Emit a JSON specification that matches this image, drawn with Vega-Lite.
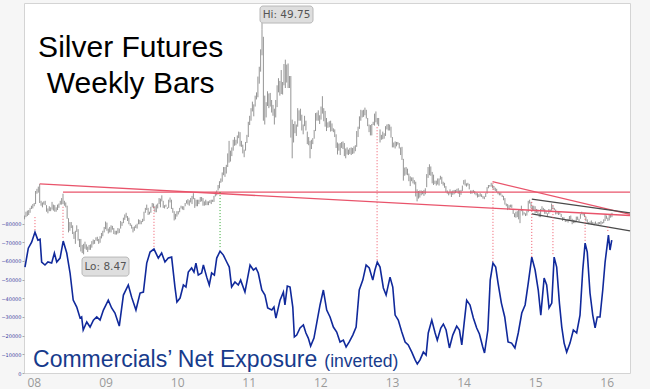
{
"$schema":"https://vega.github.io/schema/vega-lite/v6.json",
"width":606,"height":370,"autosize":"none",
"padding":{"left":24,"top":3,"right":20,"bottom":16},
"background":"#f6f6f6",
"config":{"view":{"fill":"#ffffff","stroke":"#d4d4d4"},"axis":{"grid":false,"title":null}},
"datasets":{
"price":[
{"d":"2008-01-04","l":14.9,"h":15.6},{"d":"2008-01-11","l":15.3,"h":16.3},{"d":"2008-01-18","l":15.5,"h":16.5},{"d":"2008-01-25","l":15.7,"h":16.6},{"d":"2008-02-01","l":16.1,"h":17.0},{"d":"2008-02-08","l":16.8,"h":17.4},{"d":"2008-02-15","l":16.9,"h":17.7},{"d":"2008-02-22","l":17.3,"h":17.9},{"d":"2008-02-29","l":17.7,"h":20.1},{"d":"2008-03-07","l":19.6,"h":20.5},{"d":"2008-03-14","l":19.8,"h":20.9},{"d":"2008-03-21","l":17.9,"h":21.4},{"d":"2008-03-28","l":17.4,"h":18.3},{"d":"2008-04-04","l":17.1,"h":18.0},{"d":"2008-04-11","l":17.6,"h":18.2},{"d":"2008-04-18","l":17.5,"h":18.3},{"d":"2008-04-25","l":16.3,"h":17.5},{"d":"2008-05-02","l":16.0,"h":16.9},{"d":"2008-05-09","l":16.4,"h":17.3},{"d":"2008-05-16","l":16.4,"h":17.1},{"d":"2008-05-23","l":16.7,"h":18.1},{"d":"2008-05-30","l":16.5,"h":17.6},{"d":"2008-06-06","l":16.3,"h":17.5},{"d":"2008-06-13","l":16.3,"h":17.1},{"d":"2008-06-20","l":16.6,"h":17.6},{"d":"2008-06-27","l":17.0,"h":17.8},{"d":"2008-07-04","l":17.6,"h":18.3},{"d":"2008-07-11","l":17.6,"h":18.8},{"d":"2008-07-18","l":17.7,"h":19.6},{"d":"2008-07-25","l":17.4,"h":18.3},{"d":"2008-08-01","l":17.1,"h":18.0},{"d":"2008-08-08","l":15.0,"h":17.4},{"d":"2008-08-15","l":12.5,"h":15.1},{"d":"2008-08-22","l":12.8,"h":14.4},{"d":"2008-08-29","l":13.3,"h":14.4},{"d":"2008-09-05","l":12.2,"h":13.8},{"d":"2008-09-12","l":11.3,"h":12.6},{"d":"2008-09-19","l":10.4,"h":12.8},{"d":"2008-09-26","l":12.6,"h":13.8},{"d":"2008-10-03","l":11.0,"h":13.1},{"d":"2008-10-10","l":9.8,"h":11.3},{"d":"2008-10-17","l":9.0,"h":11.3},{"d":"2008-10-24","l":8.7,"h":10.2},{"d":"2008-10-31","l":8.47,"h":10.4},{"d":"2008-11-07","l":9.5,"h":10.8},{"d":"2008-11-14","l":9.3,"h":10.3},{"d":"2008-11-21","l":8.9,"h":9.9},{"d":"2008-11-28","l":9.3,"h":10.2},{"d":"2008-12-05","l":9.3,"h":10.3},{"d":"2008-12-12","l":9.7,"h":10.9},{"d":"2008-12-19","l":10.3,"h":11.2},{"d":"2008-12-26","l":10.4,"h":11.1},
{"d":"2009-01-02","l":11.0,"h":11.6},{"d":"2009-01-09","l":10.9,"h":11.7},{"d":"2009-01-16","l":10.4,"h":11.3},{"d":"2009-01-23","l":10.6,"h":11.8},{"d":"2009-01-30","l":11.4,"h":12.4},{"d":"2009-02-06","l":11.8,"h":12.8},{"d":"2009-02-13","l":12.5,"h":13.5},{"d":"2009-02-20","l":13.1,"h":14.5},{"d":"2009-02-27","l":12.8,"h":14.3},{"d":"2009-03-06","l":12.3,"h":13.2},{"d":"2009-03-13","l":12.5,"h":13.5},{"d":"2009-03-20","l":12.5,"h":13.8},{"d":"2009-03-27","l":13.0,"h":13.7},{"d":"2009-04-03","l":12.2,"h":13.3},{"d":"2009-04-10","l":12.1,"h":12.8},{"d":"2009-04-17","l":12.1,"h":12.8},{"d":"2009-04-24","l":12.3,"h":13.3},{"d":"2009-05-01","l":12.4,"h":13.2},{"d":"2009-05-08","l":13.2,"h":14.6},{"d":"2009-05-15","l":13.7,"h":14.4},{"d":"2009-05-22","l":14.2,"h":15.2},{"d":"2009-05-29","l":14.8,"h":15.8},{"d":"2009-06-05","l":15.2,"h":16.1},{"d":"2009-06-12","l":14.6,"h":15.5},{"d":"2009-06-19","l":14.0,"h":15.2},{"d":"2009-06-26","l":13.7,"h":14.2},{"d":"2009-07-03","l":13.2,"h":13.9},{"d":"2009-07-10","l":12.5,"h":13.5},{"d":"2009-07-17","l":12.8,"h":13.6},{"d":"2009-07-24","l":13.3,"h":13.9},{"d":"2009-07-31","l":13.2,"h":14.1},{"d":"2009-08-07","l":14.0,"h":14.9},{"d":"2009-08-14","l":14.0,"h":14.8},{"d":"2009-08-21","l":14.0,"h":14.6},{"d":"2009-08-28","l":14.4,"h":15.0},{"d":"2009-09-04","l":14.6,"h":16.3},{"d":"2009-09-11","l":16.1,"h":17.0},{"d":"2009-09-18","l":16.6,"h":17.6},{"d":"2009-09-25","l":15.7,"h":17.0},{"d":"2009-10-02","l":15.8,"h":16.3},{"d":"2009-10-09","l":16.1,"h":17.2},{"d":"2009-10-16","l":17.1,"h":17.9},{"d":"2009-10-23","l":16.9,"h":17.8},{"d":"2009-10-30","l":16.2,"h":17.3},{"d":"2009-11-06","l":16.2,"h":17.6},{"d":"2009-11-13","l":16.9,"h":17.8},{"d":"2009-11-20","l":17.7,"h":18.8},{"d":"2009-11-27","l":17.1,"h":18.7},{"d":"2009-12-04","l":18.2,"h":19.3},{"d":"2009-12-11","l":17.0,"h":18.3},{"d":"2009-12-18","l":16.9,"h":17.5},{"d":"2009-12-25","l":17.2,"h":17.6},
{"d":"2010-01-01","l":16.8,"h":17.1},{"d":"2010-01-08","l":17.0,"h":18.5},{"d":"2010-01-15","l":18.0,"h":18.9},{"d":"2010-01-22","l":16.8,"h":18.5},{"d":"2010-01-29","l":16.1,"h":17.0},{"d":"2010-02-05","l":14.7,"h":16.4},{"d":"2010-02-12","l":14.9,"h":15.9},{"d":"2010-02-19","l":15.4,"h":16.4},{"d":"2010-02-26","l":15.8,"h":16.4},{"d":"2010-03-05","l":16.2,"h":17.0},{"d":"2010-03-12","l":16.9,"h":17.4},{"d":"2010-03-19","l":16.7,"h":17.3},{"d":"2010-03-26","l":16.6,"h":17.3},{"d":"2010-04-02","l":17.3,"h":17.9},{"d":"2010-04-09","l":17.8,"h":18.4},{"d":"2010-04-16","l":17.6,"h":18.6},{"d":"2010-04-23","l":17.4,"h":18.4},{"d":"2010-04-30","l":18.0,"h":18.8},{"d":"2010-05-07","l":17.7,"h":19.2},{"d":"2010-05-14","l":18.6,"h":19.7},{"d":"2010-05-21","l":17.0,"h":18.8},{"d":"2010-05-28","l":17.3,"h":18.5},{"d":"2010-06-04","l":17.3,"h":18.5},{"d":"2010-06-11","l":17.7,"h":18.5},{"d":"2010-06-18","l":18.1,"h":19.0},{"d":"2010-06-25","l":18.2,"h":19.0},{"d":"2010-07-02","l":17.4,"h":18.8},{"d":"2010-07-09","l":17.4,"h":18.2},{"d":"2010-07-16","l":17.5,"h":18.5},{"d":"2010-07-23","l":17.5,"h":18.2},{"d":"2010-07-30","l":17.5,"h":18.2},{"d":"2010-08-06","l":17.9,"h":18.4},{"d":"2010-08-13","l":17.7,"h":18.5},{"d":"2010-08-20","l":18.1,"h":18.5},{"d":"2010-08-27","l":18.1,"h":19.2},{"d":"2010-09-03","l":19.1,"h":19.9},{"d":"2010-09-10","l":19.3,"h":20.2},{"d":"2010-09-17","l":20.2,"h":21.2},{"d":"2010-09-24","l":20.6,"h":21.9},{"d":"2010-10-01","l":21.6,"h":22.4},{"d":"2010-10-08","l":21.8,"h":23.5},{"d":"2010-10-15","l":23.0,"h":24.5},{"d":"2010-10-22","l":22.7,"h":24.5},{"d":"2010-10-29","l":23.3,"h":24.9},{"d":"2010-11-05","l":24.5,"h":27.0},{"d":"2010-11-12","l":25.3,"h":29.3},{"d":"2010-11-19","l":25.5,"h":27.5},{"d":"2010-11-26","l":26.5,"h":28.1},{"d":"2010-12-03","l":27.5,"h":29.5},{"d":"2010-12-10","l":28.4,"h":30.0},{"d":"2010-12-17","l":28.5,"h":29.5},{"d":"2010-12-24","l":28.8,"h":30.3},{"d":"2010-12-31","l":29.8,"h":31.0},
{"d":"2011-01-07","l":28.3,"h":30.9},{"d":"2011-01-14","l":28.2,"h":29.3},{"d":"2011-01-21","l":27.0,"h":28.6},{"d":"2011-01-28","l":26.3,"h":27.7},{"d":"2011-02-04","l":27.5,"h":29.1},{"d":"2011-02-11","l":28.9,"h":30.4},{"d":"2011-02-18","l":30.0,"h":32.8},{"d":"2011-02-25","l":32.2,"h":33.9},{"d":"2011-03-04","l":33.0,"h":35.3},{"d":"2011-03-11","l":34.7,"h":36.5},{"d":"2011-03-18","l":33.8,"h":36.0},{"d":"2011-03-25","l":35.6,"h":37.6},{"d":"2011-04-01","l":36.9,"h":38.2},{"d":"2011-04-08","l":37.3,"h":41.1},{"d":"2011-04-15","l":39.8,"h":42.9},{"d":"2011-04-22","l":42.0,"h":46.1},{"d":"2011-04-29","l":45.0,"h":49.75},{"d":"2011-05-06","l":33.0,"h":48.4},{"d":"2011-05-13","l":32.3,"h":37.6},{"d":"2011-05-20","l":33.6,"h":36.4},{"d":"2011-05-27","l":35.7,"h":38.4},{"d":"2011-06-03","l":35.3,"h":38.0},{"d":"2011-06-10","l":35.6,"h":38.1},{"d":"2011-06-17","l":34.5,"h":36.8},{"d":"2011-06-24","l":33.9,"h":35.9},{"d":"2011-07-01","l":32.3,"h":35.2},{"d":"2011-07-08","l":33.6,"h":36.8},{"d":"2011-07-15","l":35.5,"h":39.5},{"d":"2011-07-22","l":38.2,"h":40.8},{"d":"2011-07-29","l":37.6,"h":40.3},{"d":"2011-08-05","l":37.9,"h":42.3},{"d":"2011-08-12","l":37.8,"h":40.1},{"d":"2011-08-19","l":39.5,"h":43.4},{"d":"2011-08-26","l":39.0,"h":44.2},{"d":"2011-09-02","l":40.0,"h":43.3},{"d":"2011-09-09","l":39.0,"h":43.5},{"d":"2011-09-16","l":39.0,"h":41.2},{"d":"2011-09-23","l":29.9,"h":41.2},{"d":"2011-09-30","l":26.1,"h":33.2},{"d":"2011-10-07","l":29.0,"h":32.4},{"d":"2011-10-14","l":30.7,"h":32.9},{"d":"2011-10-21","l":30.2,"h":32.3},{"d":"2011-10-28","l":31.9,"h":35.3},{"d":"2011-11-04","l":33.0,"h":34.9},{"d":"2011-11-11","l":33.0,"h":35.2},{"d":"2011-11-18","l":31.2,"h":34.1},{"d":"2011-11-25","l":30.5,"h":32.3},{"d":"2011-12-02","l":32.0,"h":33.9},{"d":"2011-12-09","l":31.2,"h":33.0},{"d":"2011-12-16","l":28.7,"h":31.0},{"d":"2011-12-23","l":28.5,"h":30.0},{"d":"2011-12-30","l":26.1,"h":29.3},
{"d":"2012-01-06","l":27.8,"h":29.5},{"d":"2012-01-13","l":28.7,"h":29.8},{"d":"2012-01-20","l":29.7,"h":31.3},{"d":"2012-01-27","l":31.1,"h":34.4},{"d":"2012-02-03","l":33.0,"h":34.5},{"d":"2012-02-10","l":33.0,"h":34.9},{"d":"2012-02-17","l":32.4,"h":34.0},{"d":"2012-02-24","l":33.2,"h":35.6},{"d":"2012-03-02","l":34.3,"h":37.5},{"d":"2012-03-09","l":32.9,"h":35.3},{"d":"2012-03-16","l":31.9,"h":34.8},{"d":"2012-03-23","l":31.1,"h":33.5},{"d":"2012-03-30","l":31.7,"h":32.7},{"d":"2012-04-06","l":31.8,"h":32.9},{"d":"2012-04-13","l":31.0,"h":33.0},{"d":"2012-04-20","l":31.1,"h":32.5},{"d":"2012-04-27","l":30.9,"h":31.6},{"d":"2012-05-04","l":30.0,"h":31.4},{"d":"2012-05-11","l":28.0,"h":30.5},{"d":"2012-05-18","l":26.8,"h":29.0},{"d":"2012-05-25","l":27.5,"h":28.8},{"d":"2012-06-01","l":26.7,"h":28.9},{"d":"2012-06-08","l":28.0,"h":29.1},{"d":"2012-06-15","l":27.8,"h":29.2},{"d":"2012-06-22","l":26.5,"h":28.9},{"d":"2012-06-29","l":26.1,"h":27.9},{"d":"2012-07-06","l":26.8,"h":28.1},{"d":"2012-07-13","l":26.7,"h":27.7},{"d":"2012-07-20","l":26.9,"h":28.0},{"d":"2012-07-27","l":26.7,"h":28.1},{"d":"2012-08-03","l":26.9,"h":28.0},{"d":"2012-08-10","l":27.0,"h":28.3},{"d":"2012-08-17","l":27.4,"h":28.5},{"d":"2012-08-24","l":28.2,"h":31.1},{"d":"2012-08-31","l":30.0,"h":31.9},{"d":"2012-09-07","l":31.5,"h":33.8},{"d":"2012-09-14","l":33.0,"h":35.0},{"d":"2012-09-21","l":33.6,"h":34.9},{"d":"2012-09-28","l":33.7,"h":35.0},{"d":"2012-10-05","l":34.0,"h":35.4},{"d":"2012-10-12","l":33.4,"h":35.0},{"d":"2012-10-19","l":32.0,"h":33.5},{"d":"2012-10-26","l":30.9,"h":32.3},{"d":"2012-11-02","l":30.3,"h":32.2},{"d":"2012-11-09","l":30.3,"h":32.4},{"d":"2012-11-16","l":32.2,"h":32.8},{"d":"2012-11-23","l":32.1,"h":34.3},{"d":"2012-11-30","l":32.7,"h":34.7},{"d":"2012-12-07","l":32.3,"h":33.5},{"d":"2012-12-14","l":32.0,"h":33.5},{"d":"2012-12-21","l":29.0,"h":31.4},{"d":"2012-12-28","l":29.5,"h":30.4},
{"d":"2013-01-04","l":29.6,"h":31.0},{"d":"2013-01-11","l":29.7,"h":30.7},{"d":"2013-01-18","l":30.2,"h":32.0},{"d":"2013-01-25","l":31.4,"h":32.3},{"d":"2013-02-01","l":31.2,"h":32.4},{"d":"2013-02-08","l":31.2,"h":32.3},{"d":"2013-02-15","l":29.9,"h":31.9},{"d":"2013-02-22","l":28.1,"h":30.0},{"d":"2013-03-01","l":28.1,"h":29.0},{"d":"2013-03-08","l":27.9,"h":29.2},{"d":"2013-03-15","l":28.3,"h":29.1},{"d":"2013-03-22","l":28.6,"h":29.1},{"d":"2013-03-29","l":27.9,"h":28.9},{"d":"2013-04-05","l":26.7,"h":28.1},{"d":"2013-04-12","l":25.8,"h":28.2},{"d":"2013-04-19","l":22.0,"h":26.0},{"d":"2013-04-26","l":22.9,"h":24.4},{"d":"2013-05-03","l":23.1,"h":24.5},{"d":"2013-05-10","l":23.0,"h":24.2},{"d":"2013-05-17","l":21.9,"h":23.3},{"d":"2013-05-24","l":21.0,"h":22.8},{"d":"2013-05-31","l":21.9,"h":22.6},{"d":"2013-06-07","l":21.5,"h":22.6},{"d":"2013-06-14","l":21.3,"h":22.1},{"d":"2013-06-21","l":19.1,"h":21.8},{"d":"2013-06-28","l":18.2,"h":20.4},{"d":"2013-07-05","l":18.7,"h":20.1},{"d":"2013-07-12","l":18.9,"h":20.2},{"d":"2013-07-19","l":19.3,"h":20.2},{"d":"2013-07-26","l":19.5,"h":20.1},{"d":"2013-08-02","l":19.2,"h":20.3},{"d":"2013-08-09","l":19.5,"h":20.6},{"d":"2013-08-16","l":20.8,"h":23.2},{"d":"2013-08-23","l":22.5,"h":24.5},{"d":"2013-08-30","l":23.0,"h":25.0},{"d":"2013-09-06","l":22.9,"h":24.6},{"d":"2013-09-13","l":21.5,"h":23.6},{"d":"2013-09-20","l":21.2,"h":23.1},{"d":"2013-09-27","l":21.4,"h":22.0},{"d":"2013-10-04","l":21.1,"h":22.0},{"d":"2013-10-11","l":21.3,"h":22.4},{"d":"2013-10-18","l":21.1,"h":22.4},{"d":"2013-10-25","l":22.2,"h":22.9},{"d":"2013-11-01","l":21.4,"h":22.7},{"d":"2013-11-08","l":21.1,"h":21.8},{"d":"2013-11-15","l":20.7,"h":21.6},{"d":"2013-11-22","l":19.9,"h":21.0},{"d":"2013-11-29","l":19.6,"h":20.2},{"d":"2013-12-06","l":19.3,"h":19.9},{"d":"2013-12-13","l":19.5,"h":20.4},{"d":"2013-12-20","l":19.0,"h":20.0},{"d":"2013-12-27","l":19.4,"h":20.2},
{"d":"2014-01-03","l":19.5,"h":20.3},{"d":"2014-01-10","l":19.7,"h":20.3},{"d":"2014-01-17","l":19.9,"h":20.5},{"d":"2014-01-24","l":19.6,"h":20.6},{"d":"2014-01-31","l":19.0,"h":20.2},{"d":"2014-02-07","l":19.4,"h":20.3},{"d":"2014-02-14","l":20.1,"h":21.1},{"d":"2014-02-21","l":21.3,"h":22.1},{"d":"2014-02-28","l":21.1,"h":22.2},{"d":"2014-03-07","l":20.9,"h":21.5},{"d":"2014-03-14","l":21.1,"h":21.6},{"d":"2014-03-21","l":20.4,"h":21.4},{"d":"2014-03-28","l":19.6,"h":20.2},{"d":"2014-04-04","l":19.6,"h":20.2},{"d":"2014-04-11","l":19.8,"h":20.3},{"d":"2014-04-18","l":19.5,"h":20.1},{"d":"2014-04-25","l":19.3,"h":19.8},{"d":"2014-05-02","l":18.9,"h":19.7},{"d":"2014-05-09","l":19.0,"h":19.5},{"d":"2014-05-16","l":19.1,"h":19.7},{"d":"2014-05-23","l":19.0,"h":19.5},{"d":"2014-05-30","l":18.7,"h":19.2},{"d":"2014-06-06","l":18.6,"h":19.1},{"d":"2014-06-13","l":19.0,"h":19.7},{"d":"2014-06-20","l":19.6,"h":20.8},{"d":"2014-06-27","l":20.6,"h":21.2},{"d":"2014-07-04","l":20.9,"h":21.2},{"d":"2014-07-11","l":20.9,"h":21.6},{"d":"2014-07-18","l":20.6,"h":21.3},{"d":"2014-07-25","l":20.3,"h":21.0},{"d":"2014-08-01","l":20.1,"h":20.7},{"d":"2014-08-08","l":19.9,"h":20.5},{"d":"2014-08-15","l":19.5,"h":20.0},{"d":"2014-08-22","l":19.3,"h":19.8},{"d":"2014-08-29","l":19.3,"h":19.8},{"d":"2014-09-05","l":19.0,"h":19.4},{"d":"2014-09-12","l":18.4,"h":19.2},{"d":"2014-09-19","l":17.6,"h":18.8},{"d":"2014-09-26","l":17.3,"h":17.8},{"d":"2014-10-03","l":16.6,"h":17.7},{"d":"2014-10-10","l":16.8,"h":17.5},{"d":"2014-10-17","l":17.1,"h":17.6},{"d":"2014-10-24","l":17.0,"h":17.6},{"d":"2014-10-31","l":15.9,"h":16.8},{"d":"2014-11-07","l":15.3,"h":16.0},{"d":"2014-11-14","l":15.2,"h":16.3},{"d":"2014-11-21","l":15.3,"h":16.4},{"d":"2014-11-28","l":14.9,"h":16.7},{"d":"2014-12-05","l":14.2,"h":16.6},{"d":"2014-12-12","l":16.4,"h":17.4},{"d":"2014-12-19","l":15.6,"h":16.6},{"d":"2014-12-26","l":15.8,"h":16.2},
{"d":"2015-01-02","l":15.5,"h":16.0},{"d":"2015-01-09","l":15.6,"h":16.5},{"d":"2015-01-16","l":16.2,"h":18.3},{"d":"2015-01-23","l":17.8,"h":18.5},{"d":"2015-01-30","l":16.9,"h":18.1},{"d":"2015-02-06","l":16.6,"h":17.4},{"d":"2015-02-13","l":16.6,"h":17.4},{"d":"2015-02-20","l":16.0,"h":17.3},{"d":"2015-02-27","l":16.1,"h":16.8},{"d":"2015-03-06","l":15.9,"h":16.7},{"d":"2015-03-13","l":15.3,"h":16.1},{"d":"2015-03-20","l":15.3,"h":16.8},{"d":"2015-03-27","l":16.6,"h":17.3},{"d":"2015-04-03","l":16.5,"h":17.0},{"d":"2015-04-10","l":15.9,"h":16.8},{"d":"2015-04-17","l":15.9,"h":16.4},{"d":"2015-04-24","l":15.5,"h":16.0},{"d":"2015-05-01","l":15.9,"h":16.8},{"d":"2015-05-08","l":16.2,"h":16.7},{"d":"2015-05-15","l":16.5,"h":17.8},{"d":"2015-05-22","l":16.8,"h":17.4},{"d":"2015-05-29","l":16.6,"h":17.0},{"d":"2015-06-05","l":15.8,"h":16.7},{"d":"2015-06-12","l":15.9,"h":16.3},{"d":"2015-06-19","l":15.7,"h":16.3},{"d":"2015-06-26","l":15.8,"h":16.2},{"d":"2015-07-03","l":15.3,"h":15.9},{"d":"2015-07-10","l":14.6,"h":15.3},{"d":"2015-07-17","l":14.9,"h":15.3},{"d":"2015-07-24","l":14.4,"h":14.9},{"d":"2015-07-31","l":14.5,"h":14.8},{"d":"2015-08-07","l":14.3,"h":15.0},{"d":"2015-08-14","l":14.8,"h":15.5},{"d":"2015-08-21","l":14.8,"h":15.6},{"d":"2015-08-28","l":14.0,"h":15.0},{"d":"2015-09-04","l":14.2,"h":14.8},{"d":"2015-09-11","l":14.2,"h":14.8},{"d":"2015-09-18","l":14.4,"h":15.4},{"d":"2015-09-25","l":14.8,"h":15.4},{"d":"2015-10-02","l":14.5,"h":15.0},{"d":"2015-10-09","l":15.0,"h":15.9},{"d":"2015-10-16","l":15.8,"h":16.3},{"d":"2015-10-23","l":15.6,"h":16.1},{"d":"2015-10-30","l":15.3,"h":16.0},{"d":"2015-11-06","l":14.6,"h":15.4},{"d":"2015-11-13","l":14.2,"h":14.9},{"d":"2015-11-20","l":14.0,"h":14.4},{"d":"2015-11-27","l":14.0,"h":14.5},{"d":"2015-12-04","l":14.0,"h":14.7},{"d":"2015-12-11","l":14.0,"h":14.4},{"d":"2015-12-18","l":13.8,"h":14.3},{"d":"2015-12-25","l":14.0,"h":14.5},
{"d":"2016-01-01","l":13.9,"h":14.2},{"d":"2016-01-08","l":13.9,"h":14.4},{"d":"2016-01-15","l":14.0,"h":14.4},{"d":"2016-01-22","l":13.9,"h":14.6},{"d":"2016-01-29","l":14.1,"h":14.4},{"d":"2016-02-05","l":14.2,"h":14.9},{"d":"2016-02-12","l":14.6,"h":15.8},{"d":"2016-02-19","l":15.0,"h":15.6},{"d":"2016-02-26","l":14.6,"h":15.2},{"d":"2016-03-04","l":14.7,"h":15.8},{"d":"2016-03-11","l":15.2,"h":15.9},{"d":"2016-03-18","l":15.3,"h":16.1}
],
"cot":[
{"d":"2008-01-06","v":-56700},{"d":"2008-01-23","v":-66800},{"d":"2008-02-09","v":-70000},{"d":"2008-02-26","v":-75400},{"d":"2008-03-12","v":-71100},{"d":"2008-03-23","v":-71600},{"d":"2008-03-31","v":-59400},{"d":"2008-04-17","v":-57800},{"d":"2008-05-02","v":-59400},{"d":"2008-05-21","v":-58800},{"d":"2008-06-04","v":-64200},{"d":"2008-06-16","v":-59400},{"d":"2008-07-03","v":-61500},{"d":"2008-07-19","v":-70600},{"d":"2008-08-06","v":-64200},{"d":"2008-08-23","v":-53500},{"d":"2008-09-08","v":-39000},{"d":"2008-09-26","v":-35300},{"d":"2008-10-13","v":-29400},{"d":"2008-10-21","v":-30000},{"d":"2008-10-29","v":-23000},{"d":"2008-11-16","v":-27300},{"d":"2008-12-03","v":-24600},{"d":"2008-12-20","v":-28300},
{"d":"2009-01-06","v":-30000},{"d":"2009-01-23","v":-28300},{"d":"2009-02-09","v":-33700},{"d":"2009-03-06","v":-39000},{"d":"2009-03-23","v":-34800},{"d":"2009-04-09","v":-32100},{"d":"2009-05-01","v":-25100},{"d":"2009-05-22","v":-41700},{"d":"2009-06-16","v":-47100},{"d":"2009-07-03","v":-40600},{"d":"2009-07-25","v":-33700},{"d":"2009-08-15","v":-42800},{"d":"2009-09-01","v":-43300},{"d":"2009-09-18","v":-58800},{"d":"2009-10-05","v":-64700},{"d":"2009-10-25","v":-66300},{"d":"2009-11-16","v":-61500},{"d":"2009-12-03","v":-64200},{"d":"2009-12-20","v":-59400},
{"d":"2010-01-06","v":-61500},{"d":"2010-01-23","v":-62000},{"d":"2010-02-09","v":-46000},{"d":"2010-02-19","v":-38000},{"d":"2010-03-07","v":-40100},{"d":"2010-03-24","v":-47100},{"d":"2010-04-06","v":-46000},{"d":"2010-04-18","v":-54000},{"d":"2010-05-05","v":-56200},{"d":"2010-05-17","v":-54000},{"d":"2010-05-27","v":-58800},{"d":"2010-06-08","v":-52400},{"d":"2010-06-25","v":-53500},{"d":"2010-07-04","v":-57800},{"d":"2010-07-21","v":-51300},{"d":"2010-08-03","v":-47100},{"d":"2010-08-15","v":-53500},{"d":"2010-08-29","v":-52400},{"d":"2010-09-10","v":-61500},{"d":"2010-09-27","v":-65200},{"d":"2010-10-14","v":-63100},{"d":"2010-10-31","v":-59400},{"d":"2010-11-13","v":-56700},{"d":"2010-11-25","v":-46000},{"d":"2010-12-12","v":-48700},{"d":"2010-12-29","v":-47100},
{"d":"2011-01-10","v":-49700},{"d":"2011-02-01","v":-43300},{"d":"2011-02-27","v":-57800},{"d":"2011-03-16","v":-55100},{"d":"2011-03-29","v":-56200},{"d":"2011-04-10","v":-53500},{"d":"2011-04-28","v":-44400},{"d":"2011-05-14","v":-41700},{"d":"2011-05-28","v":-34800},{"d":"2011-06-18","v":-33700},{"d":"2011-06-29","v":-35300},{"d":"2011-07-09","v":-29400},{"d":"2011-07-30","v":-39000},{"d":"2011-08-16","v":-43300},{"d":"2011-08-24","v":-36400},{"d":"2011-09-05","v":-46500},{"d":"2011-09-19","v":-46000},{"d":"2011-10-03","v":-35300},{"d":"2011-10-11","v":-19300},{"d":"2011-10-23","v":-20300},{"d":"2011-11-09","v":-24100},{"d":"2011-11-26","v":-25700},{"d":"2011-12-09","v":-21400},{"d":"2011-12-21","v":-18700},
{"d":"2012-01-02","v":-14400},{"d":"2012-01-19","v":-18700},{"d":"2012-02-02","v":-26700},{"d":"2012-02-19","v":-36400},{"d":"2012-03-07","v":-44400},{"d":"2012-03-24","v":-33700},{"d":"2012-04-10","v":-30000},{"d":"2012-04-27","v":-24600},{"d":"2012-05-14","v":-21900},{"d":"2012-05-31","v":-16600},{"d":"2012-06-17","v":-17600},{"d":"2012-07-01","v":-13900},{"d":"2012-07-17","v":-16600},{"d":"2012-08-04","v":-20300},{"d":"2012-08-21","v":-24600},{"d":"2012-09-06","v":-44400},{"d":"2012-09-24","v":-49700},{"d":"2012-10-11","v":-57800},{"d":"2012-10-27","v":-56200},{"d":"2012-11-14","v":-49700},{"d":"2012-11-25","v":-55100},{"d":"2012-12-07","v":-59400},{"d":"2012-12-21","v":-56700},
{"d":"2013-01-07","v":-45500},{"d":"2013-01-21","v":-41700},{"d":"2013-02-10","v":-51300},{"d":"2013-02-24","v":-46000},{"d":"2013-03-08","v":-31000},{"d":"2013-03-24","v":-28300},{"d":"2013-04-11","v":-21900},{"d":"2013-04-28","v":-16600},{"d":"2013-05-14","v":-15000},{"d":"2013-06-01","v":-11200},{"d":"2013-06-18","v":-7000},{"d":"2013-06-29","v":-4800},{"d":"2013-07-13","v":-7000},{"d":"2013-07-30","v":-11200},{"d":"2013-08-13","v":-9600},{"d":"2013-08-24","v":-21400},{"d":"2013-09-11","v":-28300},{"d":"2013-09-28","v":-21400},{"d":"2013-10-09","v":-17600},{"d":"2013-10-27","v":-24100},{"d":"2013-11-09","v":-26200},{"d":"2013-11-23","v":-23000},{"d":"2013-12-10","v":-13400},{"d":"2013-12-27","v":-20300},
{"d":"2014-01-16","v":-25100},{"d":"2014-01-30","v":-23000},{"d":"2014-02-11","v":-15000},{"d":"2014-02-23","v":-26700},{"d":"2014-03-08","v":-39000},{"d":"2014-03-25","v":-36400},{"d":"2014-04-11","v":-29400},{"d":"2014-04-28","v":-24100},{"d":"2014-05-12","v":-20900},{"d":"2014-05-29","v":-13900},{"d":"2014-06-07","v":-10700},{"d":"2014-06-24","v":-23000},{"d":"2014-07-06","v":-49700},{"d":"2014-07-20","v":-58800},{"d":"2014-08-03","v":-56700},{"d":"2014-08-15","v":-48100},{"d":"2014-09-01","v":-37400},{"d":"2014-09-18","v":-30000},{"d":"2014-10-05","v":-16600},{"d":"2014-10-23","v":-16000},{"d":"2014-11-09","v":-13400},{"d":"2014-11-26","v":-21400},{"d":"2014-12-14","v":-32100},{"d":"2014-12-31","v":-36400},
{"d":"2015-01-16","v":-48100},{"d":"2015-02-03","v":-62000},{"d":"2015-02-20","v":-55100},{"d":"2015-03-08","v":-44400},{"d":"2015-03-21","v":-31000},{"d":"2015-04-07","v":-50800},{"d":"2015-04-20","v":-47100},{"d":"2015-05-02","v":-34800},{"d":"2015-05-16","v":-37400},{"d":"2015-05-28","v":-62000},{"d":"2015-06-10","v":-56700},{"d":"2015-06-24","v":-37400},{"d":"2015-07-06","v":-24600},{"d":"2015-07-18","v":-16000},{"d":"2015-07-31","v":-11200},{"d":"2015-08-17","v":-16000},{"d":"2015-09-03","v":-23000},{"d":"2015-09-20","v":-21400},{"d":"2015-10-07","v":-31000},{"d":"2015-10-21","v":-55100},{"d":"2015-11-02","v":-69500},{"d":"2015-11-13","v":-64700},{"d":"2015-11-27","v":-42800},{"d":"2015-12-11","v":-31000},{"d":"2015-12-23","v":-24100},
{"d":"2016-01-03","v":-30000},{"d":"2016-01-17","v":-30000},{"d":"2016-01-31","v":-44400},{"d":"2016-02-12","v":-59400},{"d":"2016-02-29","v":-73800},{"d":"2016-03-08","v":-65800},{"d":"2016-03-17","v":-71100}
],
"trend":[
{"k":"resistance","d":"2008-03-21","v":21.4,"d2":"2016-06-18","v2":15.6},
{"k":"resistance","d":"2008-07-18","v":19.9,"d2":"2016-06-18","v2":19.9},
{"k":"resistance","d":"2014-07-18","v":21.8,"d2":"2016-06-18","v2":15.8},
{"k":"channel","d":"2015-02-03","v":18.6,"d2":"2016-06-18","v2":16.1},
{"k":"channel","d":"2015-02-03","v":15.9,"d2":"2016-06-18","v2":12.8}
],
"signals":[
{"k":"sell","d":"2008-02-26","v":15.3,"v2":12.9},
{"k":"sell","d":"2008-07-18","v":17.2,"v2":11.5},
{"k":"sell","d":"2009-10-25","v":17.2,"v2":9.8},
{"k":"buy","d":"2010-09-27","v":19.9,"v2":9.8},
{"k":"sell","d":"2012-12-06","v":31.8,"v2":7.1},
{"k":"sell","d":"2014-07-20","v":21.6,"v2":7.1},
{"k":"sell","d":"2015-02-03","v":18.1,"v2":8.0},
{"k":"sell","d":"2015-05-22","v":17.5,"v2":8.3},
{"k":"sell","d":"2015-11-02","v":16.1,"v2":10.7},
{"k":"sell","d":"2016-02-26","v":13.5,"v2":12.4}
]
},
"encoding":{"x":{"field":"d","type":"temporal","title":null,
 "scale":{"domain":[{"year":2008,"month":1,"date":1},{"year":2016,"month":6,"date":18}]},
 "axis":{"values":[{"year":2008,"month":1,"date":1},{"year":2009,"month":1,"date":1},{"year":2010,"month":1,"date":1},{"year":2011,"month":1,"date":1},{"year":2012,"month":1,"date":1},{"year":2013,"month":1,"date":1},{"year":2014,"month":1,"date":1},{"year":2015,"month":1,"date":1},{"year":2016,"month":1,"date":1}],
  "format":"%y","labelAlign":"left","labelOffset":3,"labelFlush":false,"labelOverlap":false,"labelBound":false,"ticks":false,"domain":false,"labelPadding":4,"labelColor":"#9a9a9a","labelFont":"Open Sans","labelFontSize":12}}},
"layer":[
{"layer":[
 {"data":{"name":"price"},"mark":{"type":"rule","color":"#959595","strokeWidth":1},
  "encoding":{"y":{"field":"l","type":"quantitative","scale":{"domain":[-13.3,54.6],"nice":false,"zero":false},
   "axis":{"orient":"right","values":[-10,0,10,20,30,40,50],"ticks":false,"domain":false,"labelPadding":3,"labelColor":"#9a9a9a","labelFont":"Open Sans","labelFontSize":12,"title":null}},
   "y2":{"field":"h"}}},
 {"data":{"name":"trend"},"mark":{"type":"rule","strokeWidth":1.3},
  "encoding":{"x2":{"field":"d2"},"y":{"field":"v","type":"quantitative","axis":null},"y2":{"field":"v2"},
   "color":{"field":"k","type":"nominal","legend":null,"scale":{"domain":["resistance","channel","sell","buy"],"range":["#e9546b","#4a4a4a","#ef5466","#2fa72f"]}}}},
 {"data":{"name":"signals"},"mark":{"type":"rule","strokeWidth":1,"strokeDash":[1,2]},
  "encoding":{"y":{"field":"v","type":"quantitative","axis":null},"y2":{"field":"v2"},
   "color":{"field":"k","type":"nominal","legend":null,"scale":{"domain":["resistance","channel","sell","buy"],"range":["#e9546b","#4a4a4a","#ef5466","#2fa72f"]}}}},
 {"data":{"values":[{"d":"2011-04-29","v":49.75,"t":"Hi: 49.75"}]},
  "layer":[
   {"mark":{"type":"rule","color":"#9a9a9a","yOffset":-6.4},"encoding":{"y":{"field":"v","type":"quantitative","axis":null},"y2":{"field":"v"}}},
   {"mark":{"type":"rect","fill":"#dedede","stroke":"#b8b8b8","strokeWidth":1,"cornerRadius":3,"xOffset":-2,"x2Offset":51,"yOffset":-23.4,"y2Offset":-6.4},
    "encoding":{"x2":{"field":"d"},"y":{"field":"v","type":"quantitative","axis":null},"y2":{"field":"v"}}},
   {"mark":{"type":"text","font":"DejaVu Sans","fontSize":10.5,"color":"#555","align":"center","baseline":"middle","dx":24.5,"dy":-14.9},
    "encoding":{"y":{"field":"v","type":"quantitative","axis":null},"text":{"field":"t"}}}
  ]},
 {"data":{"values":[{"d":"2008-10-31","v":8.47,"t":"Lo: 8.47"}]},
  "layer":[
   {"mark":{"type":"rect","fill":"#dedede","stroke":"#b8b8b8","strokeWidth":1,"cornerRadius":3,"xOffset":-1.6,"x2Offset":45.4,"yOffset":2.7,"y2Offset":21.7},
    "encoding":{"x2":{"field":"d"},"y":{"field":"v","type":"quantitative","axis":null},"y2":{"field":"v"}}},
   {"mark":{"type":"text","font":"DejaVu Sans","fontSize":10.5,"color":"#555","align":"center","baseline":"middle","dx":22,"dy":12.2},
    "encoding":{"y":{"field":"v","type":"quantitative","axis":null},"text":{"field":"t"}}}
  ]},
 {"data":{"values":[{"d":"2009-06-28","v":44.7,"t":"Silver Futures"},{"d":"2009-06-28","v":38.1,"t":"Weekly Bars"}]},
  "mark":{"type":"text","font":"Liberation Sans","fontSize":30,"color":"#000000","align":"center","baseline":"alphabetic"},
  "encoding":{"y":{"field":"v","type":"quantitative","axis":null},"text":{"field":"t"}}},
 {"data":{"values":[{"d":"2008-02-16","v":-12.2,"t":"Commercials’ Net Exposure"}]},
  "mark":{"type":"text","font":"Liberation Sans","fontSize":23,"color":"#173b8c","align":"left","baseline":"alphabetic"},
  "encoding":{"y":{"field":"v","type":"quantitative","axis":null},"text":{"field":"t"}}},
 {"data":{"values":[{"d":"2012-03-12","v":-12.2,"t":"(inverted)"}]},
  "mark":{"type":"text","font":"Liberation Sans","fontSize":17.5,"color":"#173b8c","align":"left","baseline":"alphabetic"},
  "encoding":{"y":{"field":"v","type":"quantitative","axis":null},"text":{"field":"t"}}}
]},
{"layer":[
 {"data":{"name":"cot"},"mark":{"type":"line","color":"#10299b","strokeWidth":1.6},
  "encoding":{"y":{"field":"v","type":"quantitative","scale":{"domain":[0,-198000],"nice":false,"zero":false},
   "axis":{"orient":"left","values":[0,-10000,-20000,-30000,-40000,-50000,-60000,-70000,-80000],"format":"d","ticks":true,"tickSize":2,"tickColor":"#aaaaaa","domain":false,"labelPadding":1,"labelColor":"#3d3d9e","labelFont":"DejaVu Sans","labelFontSize":5,"title":null}}}}
]}
],
"resolve":{"scale":{"y":"independent"}}
}
